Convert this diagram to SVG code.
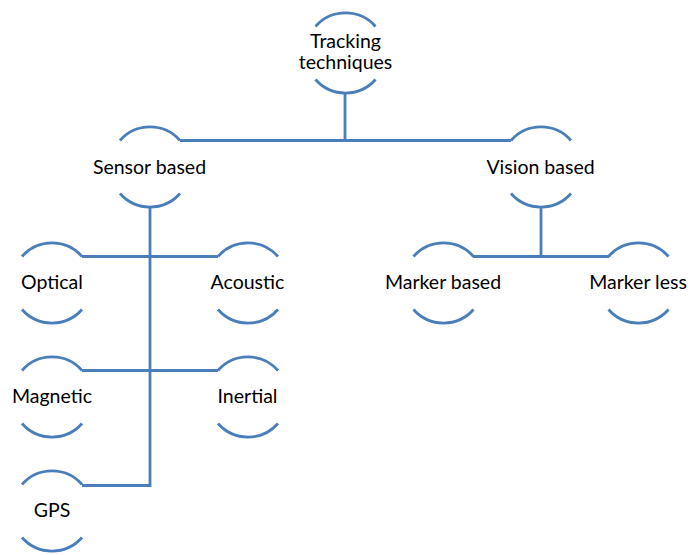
<svg xmlns="http://www.w3.org/2000/svg" xmlns:xlink="http://www.w3.org/1999/xlink" width="691" height="555" viewBox="0 0 691 555">
  <style>
    .ring { fill: none; stroke: #4a7ebb; stroke-width: 2.8; }
    .link { fill: none; stroke: #4a7ebb; stroke-width: 2.8; }
    .label { font-family: Lato, "Liberation Sans", sans-serif; font-size: 19.5px; fill: #000; text-anchor: middle; }
  </style>
  <defs>
    <!-- open circle: only the top and bottom arcs are stroked -->
    <path id="ring" d="M -30 -26.5 A 40 40 0 0 1 30 -26.5 M -30 26.5 A 40 40 0 0 0 30 26.5"/>
  </defs>
  <rect width="691" height="555" fill="#fff"/>

  <g id="connectors">
    <path class="link" d="M 345 93 V 141 M 180 140.5 H 511"/>
    <path class="link" d="M 150 207 V 485.5 H 82"/>
    <path class="link" d="M 82 256.5 H 218"/>
    <path class="link" d="M 82 370.5 H 218"/>
    <path class="link" d="M 541 207 V 256.5 M 473 256.5 H 609"/>
  </g>

  <g id="tracking">
    <use xlink:href="#ring" class="ring" x="345.5" y="53"/>
    <text class="label" x="345.5" y="47.5">Tracking</text>
    <text class="label" x="345.5" y="68.5">techniques</text>
  </g>
  <g id="sensor">
    <use xlink:href="#ring" class="ring" x="150" y="167"/>
    <text class="label" x="149.5" y="174">Sensor based</text>
  </g>
  <g id="vision">
    <use xlink:href="#ring" class="ring" x="541" y="167"/>
    <text class="label" x="540.5" y="174">Vision based</text>
  </g>
  <g id="optical">
    <use xlink:href="#ring" class="ring" x="52" y="283"/>
    <text class="label" x="52" y="288.5">Optical</text>
  </g>
  <g id="acoustic">
    <use xlink:href="#ring" class="ring" x="248" y="283"/>
    <text class="label" x="247.5" y="288.5">Acoustic</text>
  </g>
  <g id="magnetic">
    <use xlink:href="#ring" class="ring" x="52" y="397"/>
    <text class="label" x="52" y="402.5">Magnetic</text>
  </g>
  <g id="inertial">
    <use xlink:href="#ring" class="ring" x="248" y="397"/>
    <text class="label" x="247.5" y="402.5">Inertial</text>
  </g>
  <g id="gps">
    <use xlink:href="#ring" class="ring" x="52" y="511"/>
    <text class="label" x="52" y="517.3">GPS</text>
  </g>
  <g id="marker-based">
    <use xlink:href="#ring" class="ring" x="443.5" y="283"/>
    <text class="label" x="443" y="288.5">Marker based</text>
  </g>
  <g id="marker-less">
    <use xlink:href="#ring" class="ring" x="638.5" y="283"/>
    <text class="label" x="638" y="288.5">Marker less</text>
  </g>
</svg>
